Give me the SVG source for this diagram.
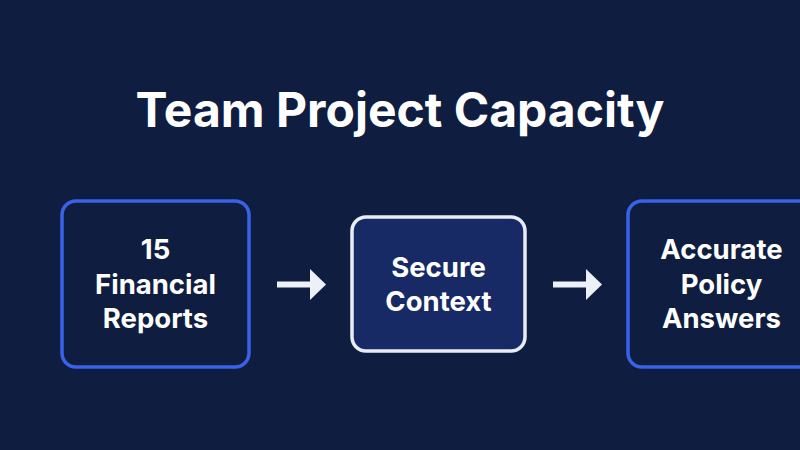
<svg xmlns="http://www.w3.org/2000/svg" width="800" height="450" viewBox="0 0 800 450">
<style>
.t{font-family:Inter,"Liberation Sans",sans-serif;font-weight:700;fill:#ffffff;text-anchor:middle}
.n{font-size:27.5px}
.box{fill:#0f1d40;stroke:#3a62e8;stroke-width:3.5}
.mid{fill:#182a66;stroke:#e8ecf5;stroke-width:3.5}
.c{stroke:#eef0f8;stroke-width:6;fill:none}
.h{fill:#eef0f8}
</style>
<rect width="800" height="450" fill="#0f1d40"/>
<text class="t" x="400" y="127" font-size="48">Team Project Capacity</text>
<g id="n1"><rect class="box" x="62" y="201" width="187" height="166" rx="14"/>
<text class="t n" x="155.5" y="259">15</text><text class="t n" x="155.5" y="294">Financial</text><text class="t n" x="155.5" y="328">Reports</text></g>
<g id="n2"><rect class="mid" x="352" y="217" width="173" height="134" rx="14"/>
<text class="t n" x="438.5" y="277">Secure</text><text class="t n" x="438.5" y="311">Context</text></g>
<g id="n3"><rect class="box" x="628" y="201" width="187" height="166" rx="14"/>
<text class="t n" x="721.5" y="259">Accurate</text><text class="t n" x="721.5" y="294">Policy</text><text class="t n" x="721.5" y="328">Answers</text></g>
<g id="connectors">
<path class="c" d="M277,284.5 H312"/><polygon class="h" points="310,269 326,284.5 310,300"/>
<path class="c" d="M553,284.5 H588"/><polygon class="h" points="586,269 602,284.5 586,300"/>
</g>
</svg>
